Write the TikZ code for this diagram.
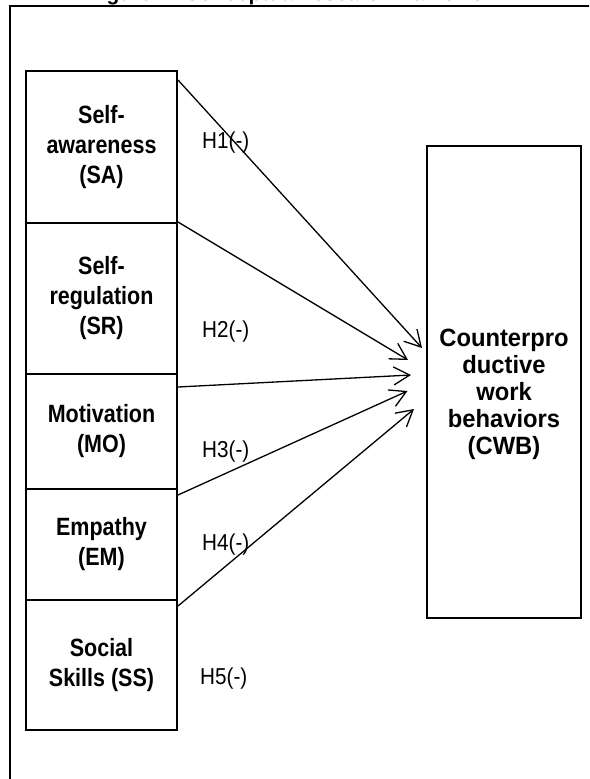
\documentclass[tikz,border=0pt]{standalone}
\usepackage{fontspec}
\setmainfont{Liberation Sans}
\newfontfamily\boxfont[FakeStretch=0.86]{Liberation Sans}
\newfontfamily\cwbfont[FakeStretch=0.95]{Liberation Sans}
\newfontfamily\labfont[FakeStretch=0.9]{Liberation Sans}
\usetikzlibrary{arrows.meta,calc}
\begin{document}
\begin{tikzpicture}[x=1pt,y=-1pt,
  box/.style={draw,line width=2pt,inner sep=0pt,align=center,
    font=\boxfont\bfseries\fontsize{25}{30}\selectfont},
  boxtext/.style={inner sep=0pt,align=center,
    font=\cwbfont\bfseries\fontsize{25}{27}\selectfont},
  hlab/.style={inner sep=0pt,anchor=west,font=\labfont\fontsize{23}{26}\selectfont},
  link/.style={line width=1.3pt,-{Straight Barb[length=16pt,width=18pt]}}]
\useasboundingbox (0,0) rectangle (589,779);
\clip (0,0) rectangle (589,779);
% cut-off title
\node[font=\bfseries\fontsize{21}{25}\selectfont,anchor=base,inner sep=0pt] (title) at (296,0) {Figure 1: Conceptual research framework};
% outer frame
\coordinate (fbl) at (10,800);
\coordinate (ftl) at (10,6);
\coordinate (ftr) at (600,6);
\draw[line width=2pt] (fbl) -- (ftl) -- (ftr);
% left boxes
\node[box,minimum width=151pt,minimum height=152pt] (SA) at (101.5,147) {Self-\\awareness\\(SA)};
\node[box,minimum width=151pt,minimum height=151pt] (SR) at (101.5,298.5) {Self-\\regulation\\(SR)};
\node[box,minimum width=151pt,minimum height=115pt] (MO) at (101.5,431.5) {Motivation\\(MO)};
\node[box,minimum width=151pt,minimum height=111pt] (EM) at (101.5,544.5) {Empathy\\(EM)};
\node[box,minimum width=151pt,minimum height=130pt] (SS) at (101.5,665) {Social\\Skills (SS)};
% right box
\node[box,minimum width=154pt,minimum height=472pt] (CWB) at (504,382) {};
\node[boxtext] (CWBt) at ($(CWB.center)+(0,12)$) {Counterpro\\ductive\\work\\behaviors\\(CWB)};
% arrow tips
\coordinate (t1) at (422,348);
\coordinate (t2) at (408,360);
\coordinate (t3) at (411,375);
\coordinate (t4) at (407.5,391);
\coordinate (t5) at (414,409);
\draw[link] ([yshift=-10pt]SA.north east) -- (t1);
\draw[link] (SR.north east) -- (t2);
\draw[link] ([yshift=-14pt]MO.north east) -- (t3);
\draw[link] ([yshift=-7pt]EM.north east) -- (t4);
\draw[link] ([yshift=-7pt]SS.north east) -- (t5);
% labels
\node[hlab] (h1) at (202,143) {H1(-)};
\node[hlab] (h2) at (202,332) {H2(-)};
\node[hlab] (h3) at (202,452) {H3(-)};
\node[hlab] (h4) at (202,545) {H4(-)};
\node[hlab] (h5) at (200,679) {H5(-)};
\end{tikzpicture}
\end{document}
